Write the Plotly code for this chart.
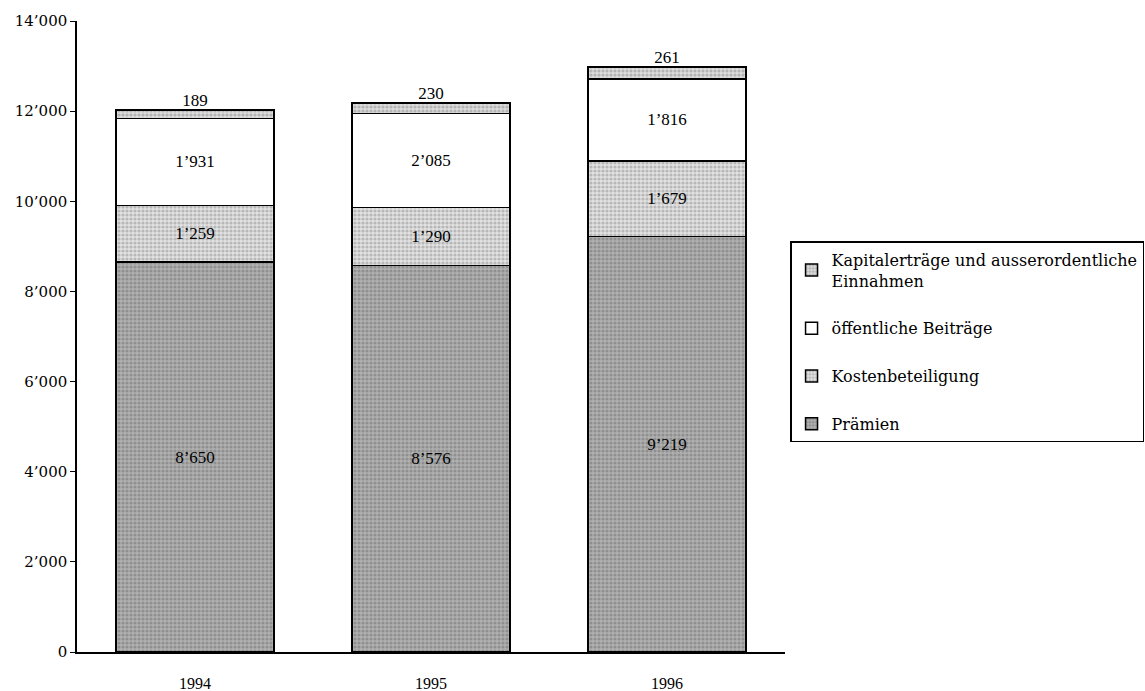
import plotly.graph_objects as go

years = ["1994", "1995", "1996"]
praemien = [8650, 8576, 9219]
kosten = [1259, 1290, 1679]
oeffentlich = [1931, 2085, 1816]
kapital = [189, 230, 261]
tick_vals = [0, 2000, 4000, 6000, 8000, 10000, 12000, 14000]
tick_text = ["0", "2’000", "4’000", "6’000", "8’000", "10’000", "12’000", "14’000"]

def fmt(v):
    return f"{v:,}".replace(",", "’")

FONT = "Liberation Serif"
series = [
    ("Prämien", praemien, "#b0b0b0", "#6e6e6e", True, 4),
    ("Kostenbeteiligung", kosten, "#e2e2e2", "#8c8c8c", True, 3),
    ("öffentliche Beiträge", oeffentlich, "#ffffff", "#ffffff", True, 2),
    ("Kapitalerträge und ausserordentliche<br>Einnahmen", kapital, "#dcdcdc", "#8c8c8c", False, 1),
]

fig = go.Figure()
for i, (name, vals, bg, fg, inside, rank) in enumerate(series):
    fig.add_trace(go.Bar(
        x=years, y=vals, name=name, legendgroup=f"g{i}", legendrank=rank,
        marker=dict(color=bg, line=dict(color="black", width=1.5),
                    pattern=dict(shape="." if bg != "#ffffff" else "", fgcolor=fg, bgcolor=bg, size=4, solidity=0.5)),
        text=[fmt(v) for v in vals] if inside else None,
        textposition="inside", insidetextanchor="middle",
        textfont=dict(family=FONT, size=17, color="black"),
        hoverinfo="skip",
    ))

totals = [a + b + c + d for a, b, c, d in zip(praemien, kosten, oeffentlich, kapital)]
fig.add_trace(go.Scatter(
    x=years, y=totals, mode="text", text=[fmt(k) for k in kapital],
    textposition="top center", textfont=dict(family=FONT, size=17, color="black"),
    showlegend=False, hoverinfo="skip", cliponaxis=False,
))

fig.update_layout(
    barmode="stack", bargap=0.329,
    width=1145, height=691,
    margin=dict(l=77, r=360, t=21, b=39, autoexpand=False),
    plot_bgcolor="white", paper_bgcolor="white",
    font=dict(family=FONT, size=15, color="black"),
    showlegend=True,
    legend=dict(traceorder="grouped", tracegroupgap=24,
                xref="container", yref="container",
                x=0.690, xanchor="left", y=0.651, yanchor="top",
                bordercolor="black", borderwidth=1.5, bgcolor="white",
                font=dict(family="DejaVu Serif", size=16), itemwidth=30),
    uniformtext=dict(mode="show", minsize=10),
)
fig.update_xaxes(range=[-0.5, 2.5], showline=True, linecolor="black", linewidth=1.5,
                 ticks="", ticklabelstandoff=16, tickfont=dict(family=FONT, size=16), automargin=False)
fig.update_yaxes(range=[0, 14000], tickvals=tick_vals, ticktext=tick_text, showline=True,
                 linecolor="black", linewidth=1.5, ticks="outside", ticklen=5, tickcolor="black",
                 showgrid=False, zeroline=False, tickfont=dict(family="DejaVu Serif", size=15),
                 automargin=False)
fig.write_html("out.html", config={"displayModeBar": False},
               post_script="document.body.style.margin='0';document.body.style.overflow='hidden';")
